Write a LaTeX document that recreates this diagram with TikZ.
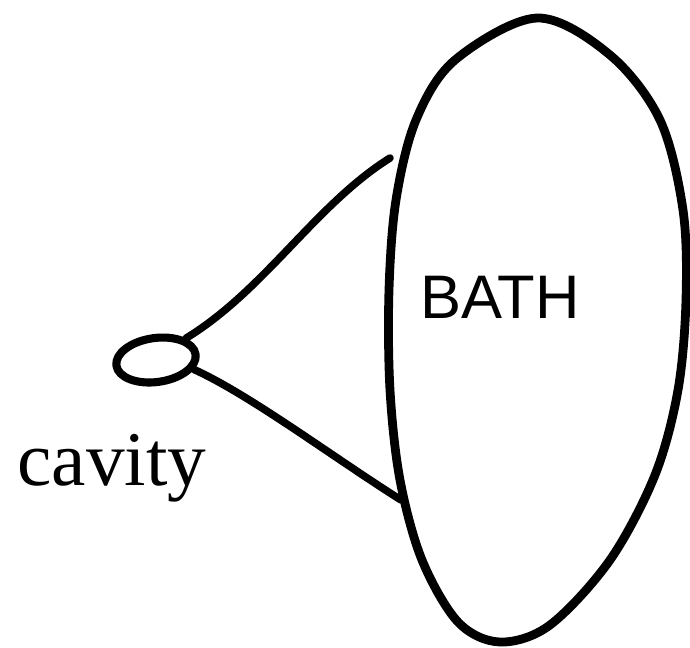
\documentclass[tikz,border=0pt]{standalone}
\usepackage{fontspec}
\setmainfont{Liberation Serif}
\newfontfamily\handfont{Liberation Sans}
\usepackage{tikz}
\usetikzlibrary{shapes.geometric}
\definecolor{inkc}{HTML}{000000}

\begin{document}
\begin{tikzpicture}[x=0.02cm, y=-0.02cm, line cap=round, line join=round,
    sketch/.style={draw=inkc, line width=4.6pt},
    wire/.style={draw=inkc, line width=4.3pt}]
    \useasboundingbox (0,0) rectangle (690,647);
    % the bath
    \draw[sketch, line width=5pt] plot[smooth cycle, tension=0.55] coordinates {
      (537,18) (610,55) (660,120) (683,210) (686,300) (678,390) (655,475)
      (610,560) (550,625) (500,642) (458,622) (422,560) (400,480) (390,390)
      (389,290) (396,200) (416,120) (455,60)};
    \node[font=\handfont\fontsize{35}{38}\selectfont, inkc] (bathlabel) at (500,297) {BATH};
    \coordinate (bathup) at (390,158);
    \coordinate (bathdown) at (401,500);
    % the cavity
    \node[ellipse, sketch, minimum width=1.6cm, minimum height=0.88cm, inner sep=0pt, rotate=8] (cavity) at (156,360) {};
    \node[font=\fontsize{44}{48}\selectfont, inkc, anchor=base] (cavitylabel) at (112,485) {cavity};
    % couplings
    \draw[wire] (cavity.28) .. controls (265,290) and (315,205) .. (bathup);
    \draw[wire] (cavity.-22) .. controls (250,395) and (330,455) .. (bathdown);
\end{tikzpicture}
\end{document}
